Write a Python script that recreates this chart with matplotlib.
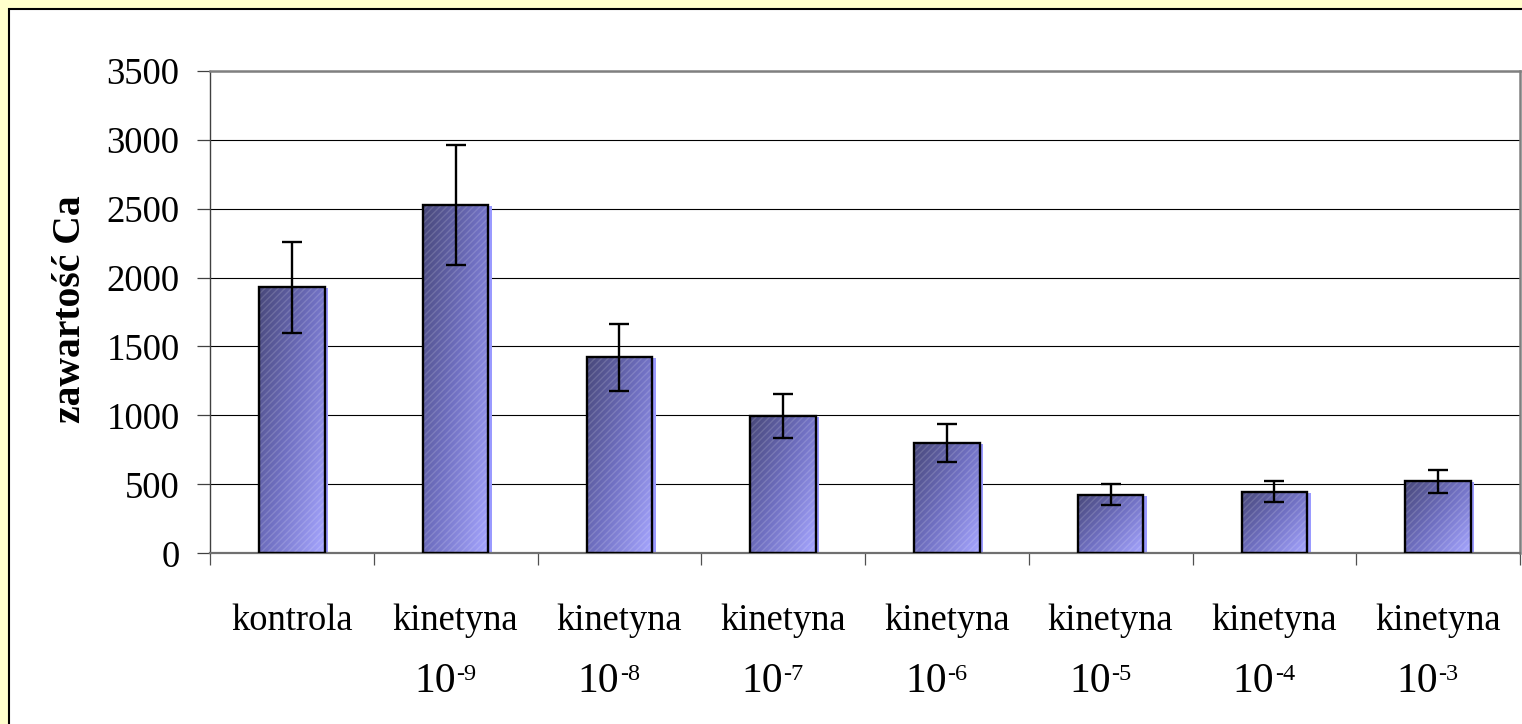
import numpy as np
import matplotlib
matplotlib.use("Agg")
import matplotlib.pyplot as plt
from matplotlib.colors import LinearSegmentedColormap
from matplotlib.patches import Rectangle
from matplotlib import transforms

# ---- data ----
categories = ["kontrola", "kinetyna", "kinetyna", "kinetyna", "kinetyna",
              "kinetyna", "kinetyna", "kinetyna"]
exponents = ["", "-9", "-8", "-7", "-6", "-5", "-4", "-3"]
values = [1930, 2525, 1423, 995, 800, 425, 447, 522]
errors = [330, 435, 243, 160, 140, 77, 78, 85]
yticks = [0, 500, 1000, 1500, 2000, 2500, 3000, 3500]
ylabel = "zawartość Ca"

SERIF = "Liberation Serif"
plt.rcParams["font.family"] = [SERIF, "DejaVu Serif"]

W, H = 1522, 724
fig = plt.figure(figsize=(W / 100, H / 100), dpi=100)
fig.patch.set_facecolor("#FFFFCC")

# white chart panel with dark border
panel = Rectangle((8.5 / W, -0.1), 1.2, 1 - 8.5 / H + 0.1, transform=fig.transFigure,
                  facecolor="white", edgecolor="black", linewidth=1.5, zorder=-10)
fig.patches.append(panel)

ax = fig.add_axes([210 / W, 1 - 553.3 / H, (1520 - 210) / W, (553.3 - 70.7) / H])
ax.set_zorder(1)
ax.set_facecolor("none")

x = np.arange(len(values))
bw = 0.4

# shadow
shadow_tr = transforms.offset_copy(ax.transData, fig=fig, x=3.5, y=-1, units="dots")
ax.bar(x, values, width=bw, color="#9a9aff", edgecolor="none", transform=shadow_tr, zorder=1.5)

# clip bars
bars = ax.bar(x, values, width=bw, facecolor="none", edgecolor="none", zorder=2)

cmap = LinearSegmentedColormap.from_list("grad", ["#48487a", "#7070c2", "#a6a6ff"])
n = 200
u = np.linspace(0, 1, n)[None, :]
v = np.linspace(0, 1, n)[:, None]
grad = 0.55 * u + 0.45 * v
for b in bars:
    x0 = b.get_x()
    x1 = x0 + b.get_width()
    h = b.get_height()
    im = ax.imshow(grad, cmap=cmap, extent=(x0, x1, 0, h), origin="upper",
                   aspect="auto", zorder=2, interpolation="bilinear")
    im.set_clip_path(b)

# subtle hatch texture
ax.bar(x, values, width=bw, facecolor="none", edgecolor=(1, 1, 1, 0.15),
       linewidth=0, hatch="/////", zorder=2.5)
# black outline
ax.bar(x, values, width=bw, facecolor="none", edgecolor="black", linewidth=1.7, zorder=3)

ax.errorbar(x, values, yerr=errors, fmt="none", ecolor="black", elinewidth=1.7,
            capsize=7.2, capthick=1.7, zorder=5)

# axes limits / grid
ax.set_xlim(-0.5, len(values) - 0.5)
ax.set_ylim(0, 3500)
ax.set_yticks(yticks)
ax.set_yticklabels([str(t) for t in yticks], fontsize=26.5, family=SERIF)
ax.yaxis.grid(True, color="black", linewidth=0.8)
ax.set_axisbelow(True)
ax.tick_params(axis="y", direction="out", length=9.4, width=0.9, color="#404040", pad=12.5)

# x ticks at category boundaries, labels at centers
ax.set_xticks(np.arange(len(values) + 1) - 0.5)
ax.set_xticklabels([])
ax.tick_params(axis="x", which="major", direction="out", length=8.6, width=0.9, color="#505050")
ax.set_xticks(x, minor=True)
ax.set_xticklabels(categories, minor=True, fontsize=26.3, family=SERIF)
ax.tick_params(axis="x", which="minor", length=0, pad=36.5)

xtr = ax.get_xaxis_transform()
for xi, ex in zip(x, exponents):
    if not ex:
        continue
    ax.annotate("10", xy=(xi, 0), xycoords=xtr, xytext=(0, -99.9), textcoords="offset points",
                ha="right", va="baseline", fontsize=30, family=SERIF, annotation_clip=False)
    ax.annotate(ex, xy=(xi, 0), xycoords=xtr, xytext=(0.2, -91.5), textcoords="offset points",
                ha="left", va="baseline", fontsize=17.5, family=SERIF, annotation_clip=False)

for side in ["top", "right"]:
    ax.spines[side].set_color("#808080")
    ax.spines[side].set_linewidth(1.8)
ax.spines["left"].set_color("#404040")
ax.spines["left"].set_linewidth(1.0)
ax.spines["bottom"].set_color("#707070")
ax.spines["bottom"].set_linewidth(1.6)

ax.set_ylabel(ylabel, fontsize=28.5, fontweight="bold", family=SERIF, va="baseline")
ax.yaxis.set_label_coords((80 - 210) / 1310, 0.505)

fig.savefig("out.png", dpi=100, facecolor=fig.get_facecolor())
